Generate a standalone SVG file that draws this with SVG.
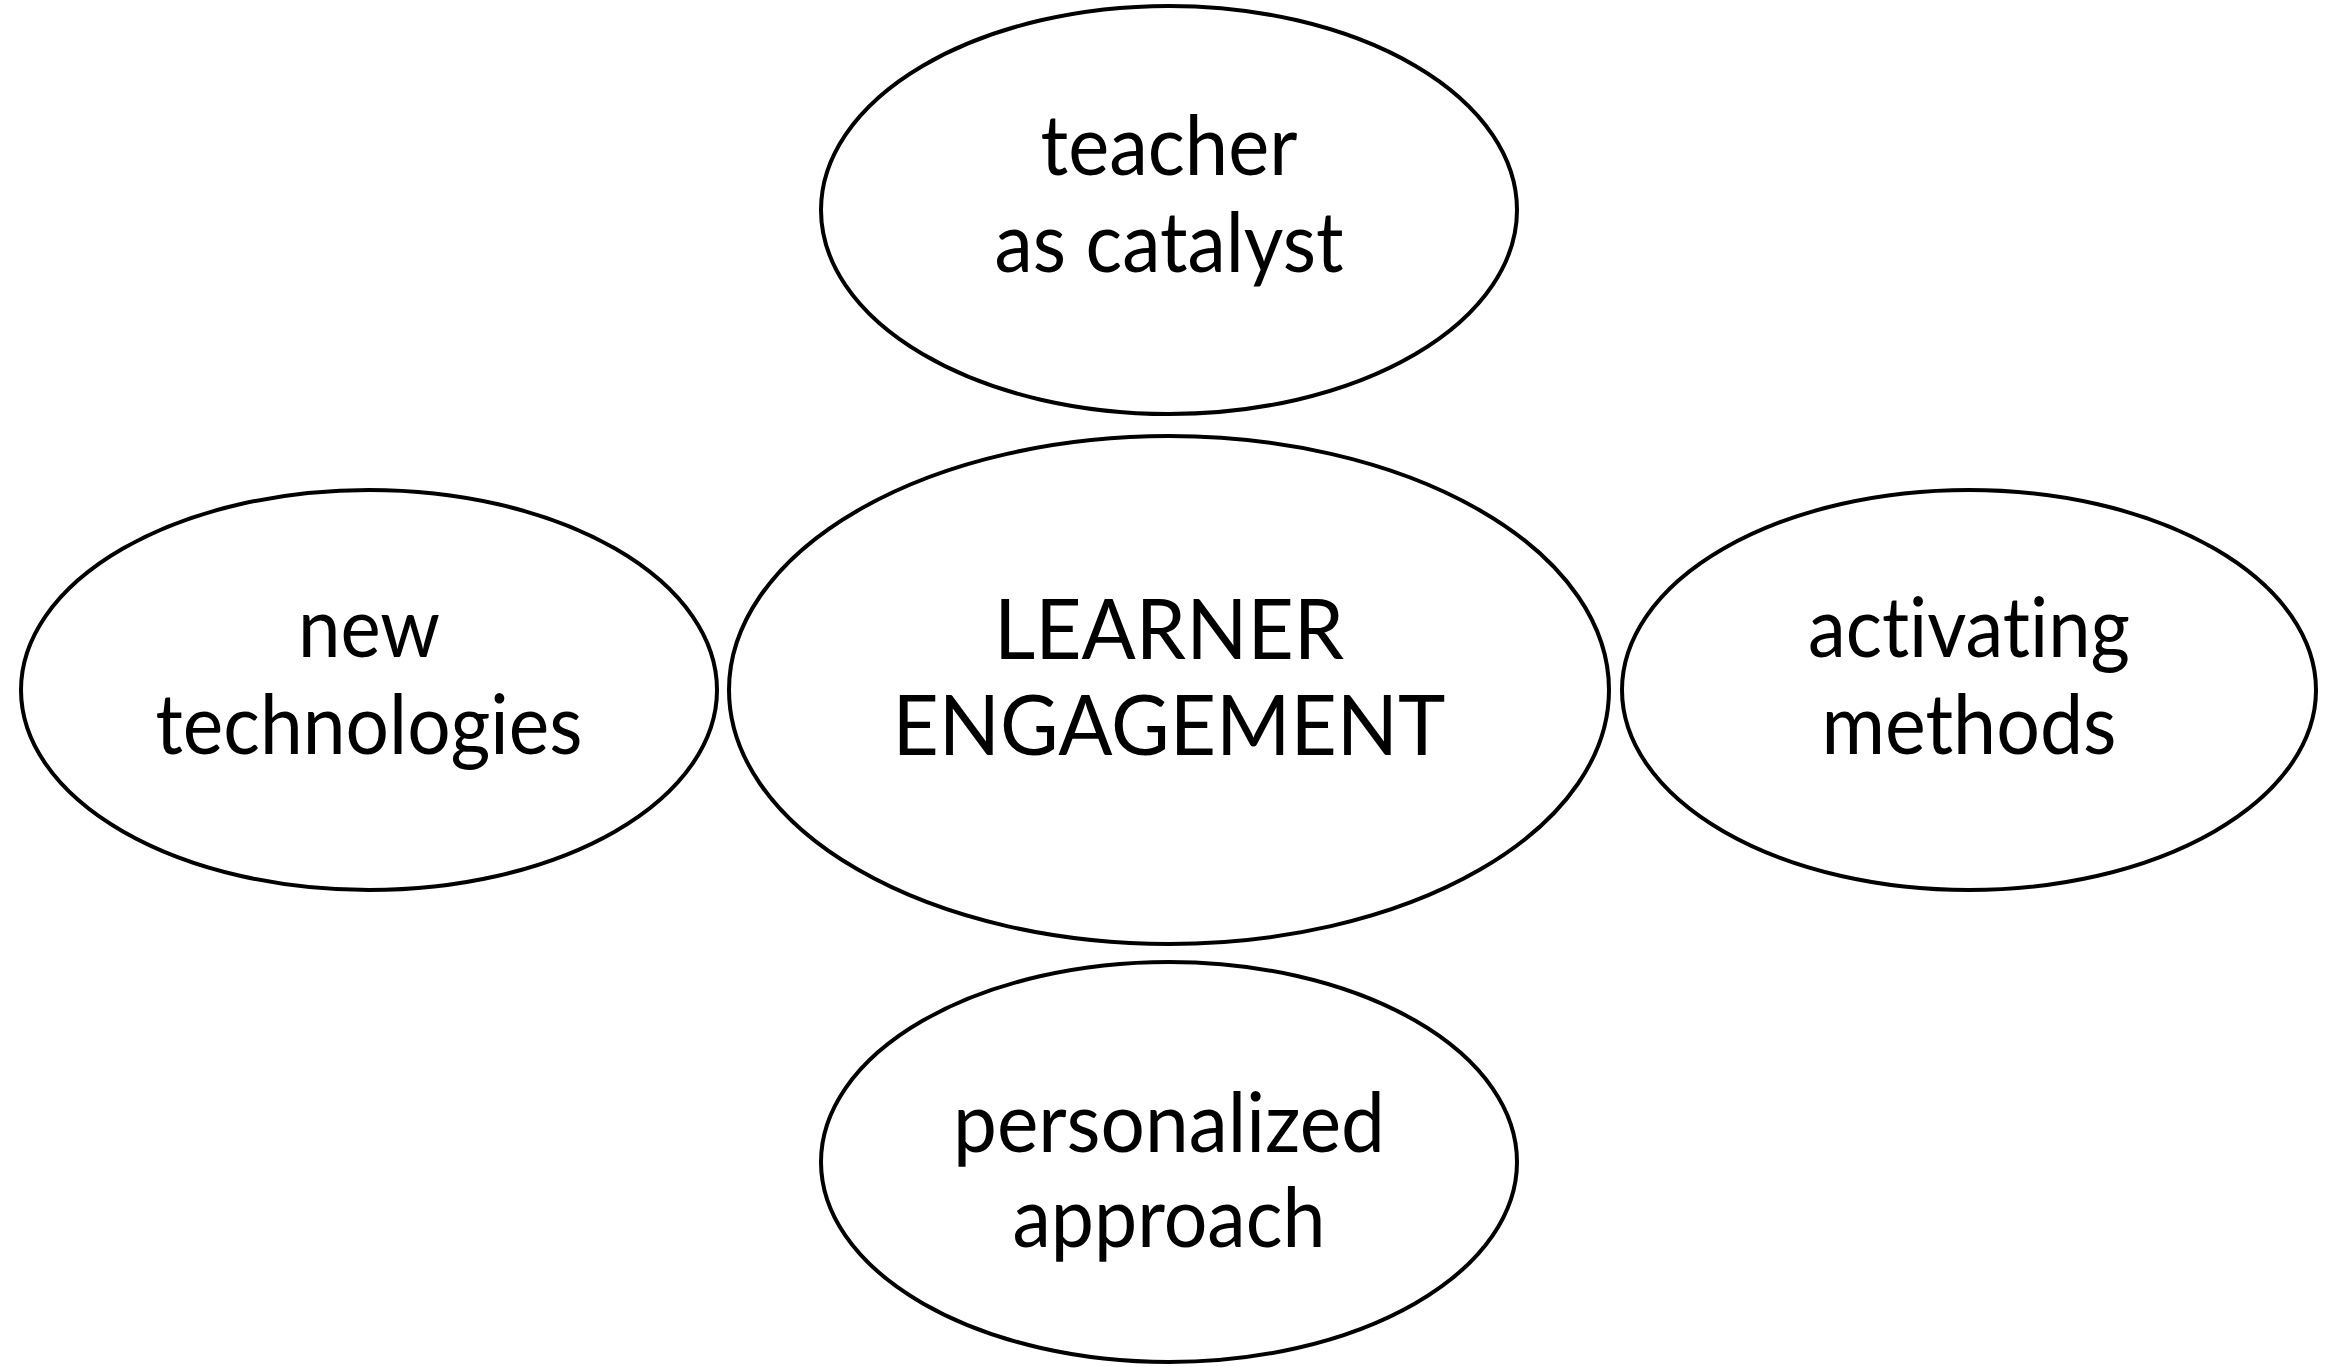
<svg xmlns="http://www.w3.org/2000/svg" width="2327" height="1367" viewBox="0 0 2327 1367">
  <style>
    .node ellipse { fill: #ffffff; stroke: #000000; stroke-width: 4; }
    .node text { font-family: Lato, "Open Sans", "Liberation Sans", sans-serif; font-size: 83px; fill: #000000; text-anchor: middle; font-variant-ligatures: none; }
  </style>
  <rect width="2327" height="1367" fill="#ffffff"/>
  <g id="connectors"></g>
  <g id="teacher-as-catalyst" class="node">
    <ellipse cx="1169" cy="210" rx="348" ry="204"/>
    <text x="1169" y="175" textLength="257" lengthAdjust="spacingAndGlyphs">teacher</text>
    <text x="1169" y="272" textLength="349" lengthAdjust="spacingAndGlyphs">as catalyst</text>
  </g>
  <g id="new-technologies" class="node">
    <ellipse cx="369" cy="690" rx="348" ry="200"/>
    <text x="369" y="657" textLength="142" lengthAdjust="spacingAndGlyphs">new</text>
    <text x="369" y="754" textLength="427" lengthAdjust="spacingAndGlyphs">technologies</text>
  </g>
  <g id="learner-engagement" class="node">
    <ellipse cx="1169" cy="690" rx="440" ry="254"/>
    <text x="1169" y="659" textLength="350" lengthAdjust="spacingAndGlyphs">LEARNER</text>
    <text x="1169" y="755" textLength="553" lengthAdjust="spacingAndGlyphs">ENGAGEMENT</text>
  </g>
  <g id="activating-methods" class="node">
    <ellipse cx="1969" cy="690" rx="347" ry="200"/>
    <text x="1969" y="657" textLength="322" lengthAdjust="spacingAndGlyphs">activating</text>
    <text x="1969" y="754" textLength="295" lengthAdjust="spacingAndGlyphs">methods</text>
  </g>
  <g id="personalized-approach" class="node">
    <ellipse cx="1169" cy="1162" rx="348" ry="200"/>
    <text x="1169" y="1152" textLength="432" lengthAdjust="spacingAndGlyphs">personalized</text>
    <text x="1169" y="1247" textLength="313" lengthAdjust="spacingAndGlyphs">approach</text>
  </g>
</svg>
